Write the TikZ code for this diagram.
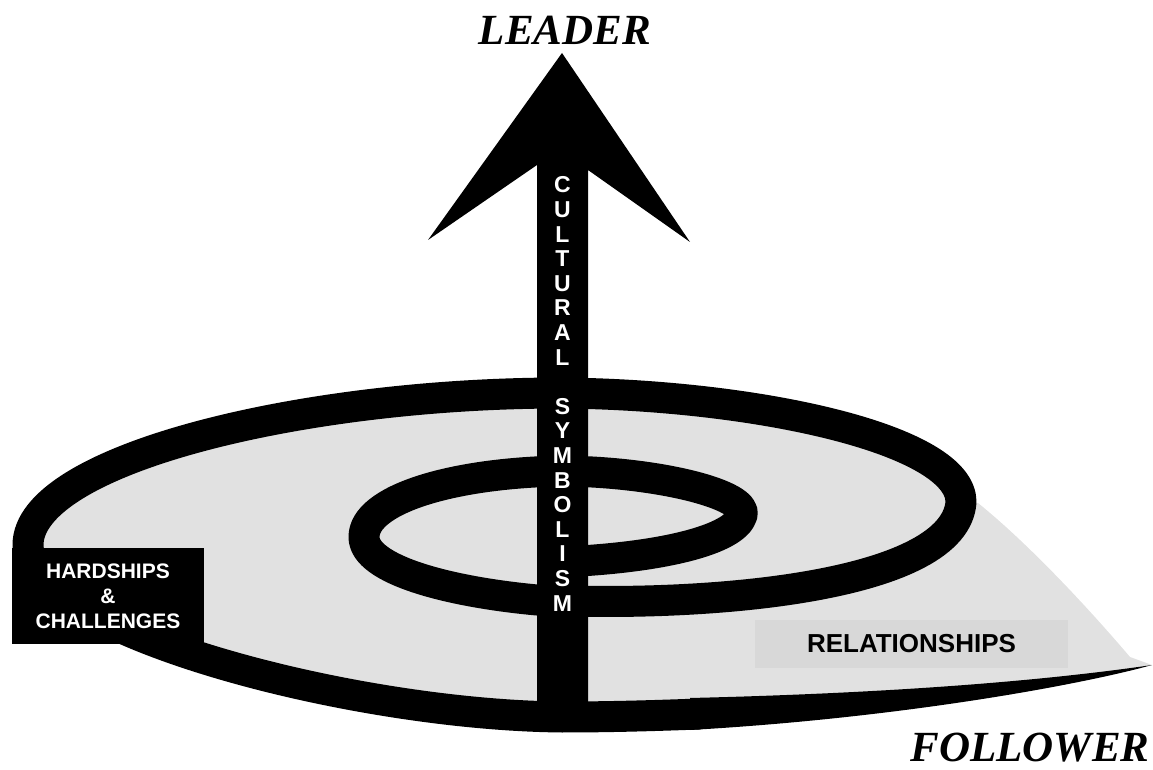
\documentclass[tikz,border=0pt]{standalone}
\usepackage{fontspec}
\setmainfont{Liberation Serif}
\setsansfont{Liberation Sans}
\usetikzlibrary{positioning}
\definecolor{discgray}{RGB}{225,225,225}
\definecolor{boxgray}{RGB}{216,216,216}

\begin{document}
\begin{tikzpicture}[x=0.5pt, y=-0.5pt]
% Define styles
\tikzstyle{heading} = [font=\fontsize{21.5}{24}\selectfont\bfseries\itshape]
\tikzstyle{darkbox} = [rectangle, fill=black, text=white, align=center, inner sep=0pt, minimum width=96pt, minimum height=48pt, font=\sffamily\bfseries\fontsize{10.5}{12.5}\selectfont]
\tikzstyle{greybox} = [rectangle, fill=boxgray, inner sep=0pt, minimum width=156.5pt, minimum height=24pt, font=\sffamily\bfseries\fontsize{13}{15}\selectfont]
\tikzstyle{letter} = [text=white, inner sep=0pt, font=\sffamily\bfseries\fontsize{11.5}{13}\selectfont]
\tikzstyle{band} = [line width=15.5pt, line join=round]

\useasboundingbox (0,0) rectangle (1153,770);

% Disc
\fill[discgray] (961,502) .. controls (961,440) and (760,395) .. (562,393)
  .. controls (300,393) and (28,460) .. (28,545)
  .. controls (28,630) and (350,715) .. (562,717)
  .. controls (650,717) and (700,714) .. (760,712)
  .. controls (900,705) and (1050,680) .. (1152,665)
  -- (1130,657) .. controls (1090,610) and (1030,545) .. (978,503) -- cycle;

% Spiral
\draw[band] (560,562) .. controls (660,558) and (735,540) .. (742,515)
  .. controls (748,495) and (660,472) .. (562,471)
  .. controls (450,473) and (364,500) .. (364,537)
  .. controls (364,570) and (450,592) .. (537,600)
  .. controls (720,608) and (955,585) .. (961,502)
  .. controls (961,440) and (760,395) .. (562,393)
  .. controls (300,393) and (28,460) .. (28,545)
  .. controls (28,630) and (350,715) .. (562,717)
  .. controls (620,717) and (670,715) .. (700,714);
\fill (690,698) .. controls (900,693) and (1050,680) .. (1152,665)
  .. controls (1080,685) and (900,718) .. (690,730) -- cycle;

% Arrow
\fill (562,53) -- (690,242) -- (588,170) -- (588,725) -- (537,725) -- (537,165) -- (428,240) -- cycle;

% Labels
\node (leader) [heading] at (565,30) {LEADER};
\node (follower) [heading] at (1030,748) {FOLLOWER};
\node (hardships) [darkbox] at (108,596) {HARDSHIPS\\\&\\CHALLENGES};
\node (relations) [greybox] at (911.5,644) {RELATIONSHIPS};
\foreach \ch [count=\i] in {C,U,L,T,U,R,A,L,{},S,Y,M,B,O,L,I,S,M}
  \node (sym-\i) [letter] at (562.5,{160.4+24.6*\i}) {\ch};
\end{tikzpicture}
\end{document}
